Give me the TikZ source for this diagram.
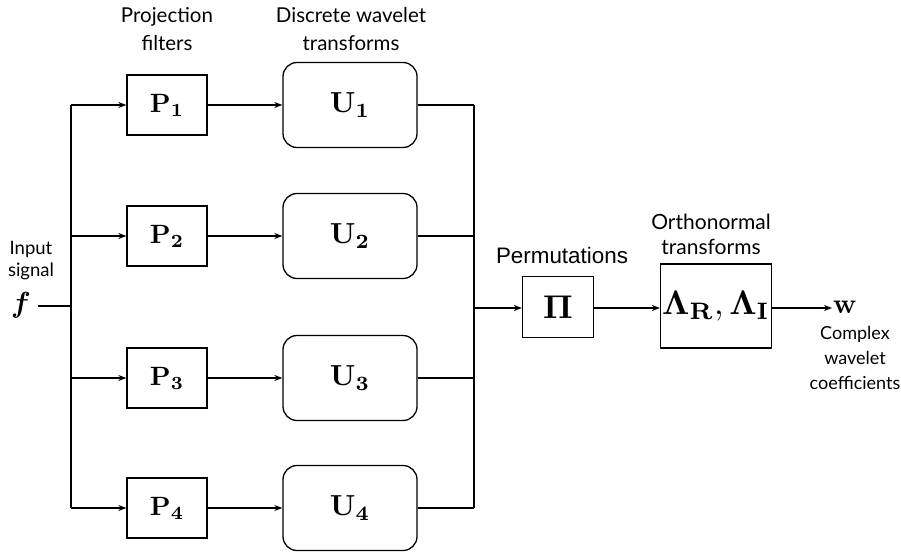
\documentclass[tikz,border=0pt]{standalone}
\usepackage{amsmath}
\usepackage{bm}
\usepackage[no-math]{fontspec}
\setmainfont{Lato}
\newfontfamily\permfont{Liberation Sans}
\usetikzlibrary{arrows.meta}
\newcommand{\mbig}[2]{\scalebox{#1}{$#2$}}
\begin{document}
\begin{tikzpicture}[x=1pt,y=-1pt,
  wire/.style={line width=1.3pt},
  arr/.style={wire,-{Stealth[length=8pt,width=6pt]}},
  pbox/.style={draw,line width=1.3pt,minimum width=80pt,minimum height=60pt,inner sep=0pt},
  ubox/.style={draw,line width=1.3pt,rounded corners=14pt,minimum width=134pt,minimum height=85pt,inner sep=0pt},
  toplab/.style={align=center,font=\fontsize{20.5}{28}\selectfont},
  smalllab/.style={align=center,font=\fontsize{18}{25}\selectfont}]
\useasboundingbox (0,0) rectangle (901,553);

\node[toplab] (lp) at (167,29) {Projection\\filters};
\node[toplab] (lu) at (351,29) {Discrete wavelet\\transforms};
\node[align=center,font=\fontsize{18.5}{22}\selectfont] (lin) at (31,261) {Input\\signal};
\node[inner sep=0pt] (f) at (21,305) {\mbig{2.9}{\bm{f}}};

\foreach \i/\y in {1/105,2/236,3/378,4/508}{
  \node[pbox] (P\i) at (167,\y) {\mbig{2.65}{\mathbf{P_{\i}}}};
  \node[ubox] (U\i) at (350,\y) {\mbig{2.9}{\mathbf{U_{\i}}}};
  \coordinate (L\i) at (71,\y);
  \coordinate (R\i) at (474,\y);
  \draw[arr] (L\i) -- (P\i.west);
  \draw[arr] (P\i.east) -- (U\i.west);
  \draw[wire] (U\i.east) -- (R\i);
}
\coordinate (fl) at (38,306);
\coordinate (Lm) at (71,306);
\draw[wire] (fl) -- (Lm);
\draw[wire] (L1) -- (L4);
\draw[wire] (R1) -- (R4);

\node[draw,line width=1.3pt,minimum width=71pt,minimum height=61pt,inner sep=0pt] (Pi) at (558,307) {\mbig{3.3}{\mathbf{\Pi}}};
\coordinate (Rm) at (474,308);
\draw[arr] (Rm) -- (Pi.west |- Rm);
\node[font=\permfont\fontsize{22.4}{26}\selectfont] (lperm) at (562,255) {Permutations};

\node[draw,line width=1.3pt,minimum width=111pt,minimum height=84pt,inner sep=0pt] (Lam) at (716,306) {\mbig{3.4}{\mathbf{\Lambda_R,\Lambda_I}}};
\node[align=center,font=\fontsize{21}{25}\selectfont] (lorth) at (711,234) {Orthonormal\\transforms};
\draw[arr] (Pi.east |- Rm) -- (Lam.west |- Rm);

\node[inner sep=1pt] (w) at (845,307) {\mbig{2.8}{\mathbf{w}}};
\draw[arr] (Lam.east |- Rm) -- (w.west |- Rm);
\node[smalllab] (lc) at (855,358) {Complex\\wavelet\\coefficients};
\end{tikzpicture}
\end{document}
